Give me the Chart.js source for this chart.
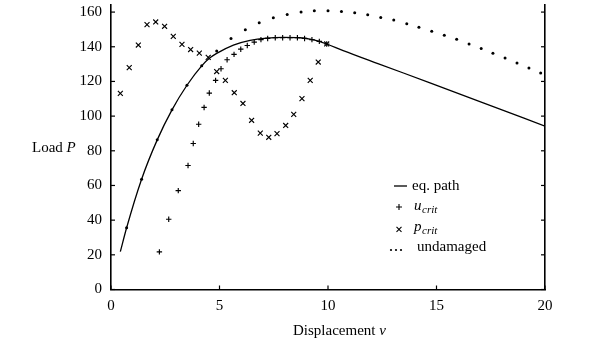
<!DOCTYPE html>
<html>
<head>
<meta charset="utf-8">
<script src="https://cdn.jsdelivr.net/npm/chart.js@4"></script>
<style>
html,body{margin:0;padding:0;background:#fff;}
#wrap{position:relative;width:600px;height:338px;}
</style>
</head>
<body>
<div id="wrap"><canvas id="c" width="600" height="338"></canvas></div>
<script>
// ---- data ----
const eqPathX = [0.43, 0.72, 1.41, 2.13, 2.81, 3.50, 4.18, 4.56, 4.87, 5.64, 6.41, 7.17, 7.94, 8.71, 9.17, 9.6, 9.94, 10.7, 12.3, 14.7, 17.0, 20.0];
const eqPathY = [21.8, 35.6, 63.6, 86.3, 103.6, 117.8, 129.0, 133.6, 136.2, 141.0, 143.7, 145.0, 145.4, 145.2, 144.4, 143.1, 141.6, 137.8, 130.3, 119.2, 108.4, 94.2];

const uCritX = [2.23, 2.66, 3.10, 3.55, 3.79, 4.04, 4.29, 4.53, 4.82, 5.07, 5.35, 5.67, 5.98, 6.28, 6.60, 6.91, 7.22, 7.57, 7.91, 8.25, 8.59, 8.92, 9.26, 9.60, 9.94];
const uCritY = [21.7, 40.5, 57.0, 71.5, 84.2, 95.3, 105.0, 113.3, 120.6, 127.3, 132.5, 135.6, 138.6, 140.7, 142.7, 144.1, 144.8, 145.2, 145.2, 145.2, 145.2, 144.8, 144.1, 143.1, 141.6];

const pCritX = [0.43, 0.84, 1.26, 1.66, 2.06, 2.47, 2.87, 3.27, 3.67, 4.07, 4.48, 4.87, 5.27, 5.68, 6.08, 6.48, 6.88, 7.27, 7.65, 8.05, 8.42, 8.80, 9.18, 9.55, 9.94];
const pCritY = [113.1, 128.0, 141.0, 152.8, 154.3, 151.8, 146.0, 141.4, 138.4, 136.3, 133.9, 125.7, 120.6, 113.5, 107.3, 97.6, 90.2, 87.8, 89.9, 94.6, 101.0, 110.1, 120.6, 131.2, 141.6];

const undamagedX = [0.72, 1.41, 2.13, 2.81, 3.50, 4.18, 4.87, 5.53, 6.19, 6.83, 7.48, 8.12, 8.76, 9.37, 10.0, 10.62, 11.23, 11.83, 12.43, 13.03, 13.63, 14.19, 14.78, 15.36, 15.93, 16.50, 17.06, 17.60, 18.16, 18.71, 19.26, 19.80];
const undamagedY = [35.6, 63.6, 86.3, 103.6, 117.8, 129.0, 137.6, 144.7, 149.8, 153.9, 156.7, 158.6, 160.1, 160.7, 160.7, 160.4, 159.6, 158.4, 156.9, 155.4, 153.3, 151.2, 149.0, 146.7, 144.3, 141.6, 139.0, 136.3, 133.5, 130.6, 127.8, 124.8];

const xTicks = [0, 5, 10, 15, 20];
const yTicks = [0, 20, 40, 60, 80, 100, 120, 140, 160];
const xLabel = ['Displacement ', 'v'];
const yLabel = ['Load ', 'P'];
const seriesNames = ['eq. path', 'u', 'p', 'undamaged'];

const pts = (xs, ys) => xs.map((x, i) => ({x: x, y: ys[i]}));

const SERIF = '"Liberation Serif", "DejaVu Serif", serif';

const chartAreaRight = 545;
const chartAreaLeft = 111;
const chartAreaBottom = 289.5;

const customDraw = {
  id: 'customDraw',
  afterDraw(chart) {
    const ctx = chart.ctx;
    const xs = chart.scales.x, ys = chart.scales.y;
    const ca = chart.chartArea;
    ctx.save();
    ctx.strokeStyle = '#000';
    ctx.lineWidth = 1.2;
    // inward tick marks
    xTicks.forEach(v => {
      const px = xs.getPixelForValue(v);
      ctx.beginPath(); ctx.moveTo(px, ca.bottom); ctx.lineTo(px, ca.bottom - 4); ctx.stroke();
    });
    yTicks.forEach(v => {
      const py = ys.getPixelForValue(v);
      ctx.beginPath(); ctx.moveTo(ca.left, py); ctx.lineTo(ca.left + 4, py); ctx.stroke();
      ctx.beginPath(); ctx.moveTo(ca.right, py); ctx.lineTo(ca.right - 4, py); ctx.stroke();
    });
    // axis titles
    ctx.fillStyle = '#000';
    ctx.textBaseline = 'middle';
    ctx.textAlign = 'left';
    const midY = (ca.top + ca.bottom) / 2;
    ctx.font = '15px ' + SERIF;
    let x0 = 32;
    ctx.fillText(yLabel[0], x0, midY + 1);
    x0 += ctx.measureText(yLabel[0]).width;
    ctx.font = 'italic 15px ' + SERIF;
    ctx.fillText(yLabel[1], x0, midY + 1);

    ctx.font = '15px ' + SERIF;
    x0 = 293;
    ctx.fillText(xLabel[0], x0, 331);
    x0 += ctx.measureText(xLabel[0]).width;
    ctx.font = 'italic 15px ' + SERIF;
    ctx.fillText(xLabel[1], x0, 331);

    // legend
    ctx.lineWidth = 1.3;
    ctx.beginPath(); ctx.moveTo(394, 186); ctx.lineTo(407, 186); ctx.stroke();
    ctx.font = '15px ' + SERIF;
    ctx.fillText(seriesNames[0], 412, 186);
    // u_crit
    ctx.lineWidth = 1.1;
    ctx.beginPath(); ctx.moveTo(396, 207); ctx.lineTo(402, 207); ctx.moveTo(399, 204); ctx.lineTo(399, 210); ctx.stroke();
    ctx.font = 'italic 15px ' + SERIF;
    ctx.fillText(seriesNames[1], 414, 206);
    let w = ctx.measureText(seriesNames[1]).width;
    ctx.font = 'italic 11px ' + SERIF;
    ctx.fillText('crit', 414 + w + 0.5, 210);
    // p_crit
    ctx.beginPath(); ctx.moveTo(396.5, 226.8); ctx.lineTo(401.5, 231.8); ctx.moveTo(401.5, 226.8); ctx.lineTo(396.5, 231.8); ctx.stroke();
    ctx.font = 'italic 15px ' + SERIF;
    ctx.fillText(seriesNames[2], 414, 227);
    w = ctx.measureText(seriesNames[2]).width;
    ctx.font = 'italic 11px ' + SERIF;
    ctx.fillText('crit', 414 + w + 0.5, 231);
    // undamaged
    [391, 396, 401].forEach(px => { ctx.beginPath(); ctx.arc(px, 250, 1.1, 0, Math.PI * 2); ctx.fill(); });
    ctx.font = '15px ' + SERIF;
    ctx.fillText(seriesNames[3], 417, 247);
    ctx.restore();
  }
};

new Chart(document.getElementById('c'), {
  type: 'scatter',
  data: {
    datasets: [
      {
        label: seriesNames[0],
        data: pts(eqPathX, eqPathY),
        showLine: true,
        borderColor: '#000',
        borderWidth: 1.3,
        pointRadius: 0,
        cubicInterpolationMode: 'monotone',
        order: 4
      },
      {
        label: seriesNames[1],
        data: pts(uCritX, uCritY),
        pointStyle: 'cross',
        pointRadius: 2.7,
        borderColor: '#000',
        backgroundColor: '#000',
        pointBorderWidth: 1.15,
        order: 2
      },
      {
        label: seriesNames[2],
        data: pts(pCritX, pCritY),
        pointStyle: 'crossRot',
        pointRadius: 3.5,
        borderColor: '#000',
        backgroundColor: '#000',
        pointBorderWidth: 1.15,
        order: 3
      },
      {
        label: seriesNames[3],
        data: pts(undamagedX, undamagedY),
        pointStyle: 'circle',
        pointRadius: 1.5,
        borderWidth: 0,
        borderColor: '#000',
        backgroundColor: '#000',
        order: 1
      }
    ]
  },
  options: {
    responsive: false,
    animation: false,
    devicePixelRatio: 1,
    layout: {padding: {left: 0, right: 600 - chartAreaRight, top: 0, bottom: 0}},
    plugins: {legend: {display: false}, tooltip: {enabled: false}},
    scales: {
      x: {
        type: 'linear',
        min: 0, max: 20,
        afterBuildTicks: s => { s.ticks = xTicks.map(v => ({value: v})); },
        afterFit: s => { s.height = 338 - chartAreaBottom; s.paddingLeft = 0; s.paddingRight = 0; },
        grid: {display: true, drawOnChartArea: false, drawTicks: false},
        border: {display: true, color: '#000', width: 1.6},
        ticks: {color: '#000', padding: 8, font: {family: SERIF, size: 15}, maxRotation: 0}
      },
      y: {
        type: 'linear',
        min: 0, max: 164,
        afterBuildTicks: s => { s.ticks = yTicks.map(v => ({value: v})); },
        afterFit: s => { s.width = chartAreaLeft; s.paddingTop = 0; s.paddingBottom = 0; },
        grid: {display: true, drawOnChartArea: false, drawTicks: false},
        border: {display: true, color: '#000', width: 1.6},
        ticks: {color: '#000', padding: 9, font: {family: SERIF, size: 15}}
      },
      y2: {
        type: 'linear',
        position: 'right',
        min: 0, max: 164,
        afterBuildTicks: s => { s.ticks = yTicks.map(v => ({value: v})); },
        afterFit: s => { s.width = 0; s.paddingTop = 0; s.paddingBottom = 0; },
        grid: {display: true, drawOnChartArea: false, drawTicks: false},
        border: {display: true, color: '#000', width: 1.6},
        ticks: {display: false}
      }
    }
  },
  plugins: [customDraw]
});
</script>
</body>
</html>
